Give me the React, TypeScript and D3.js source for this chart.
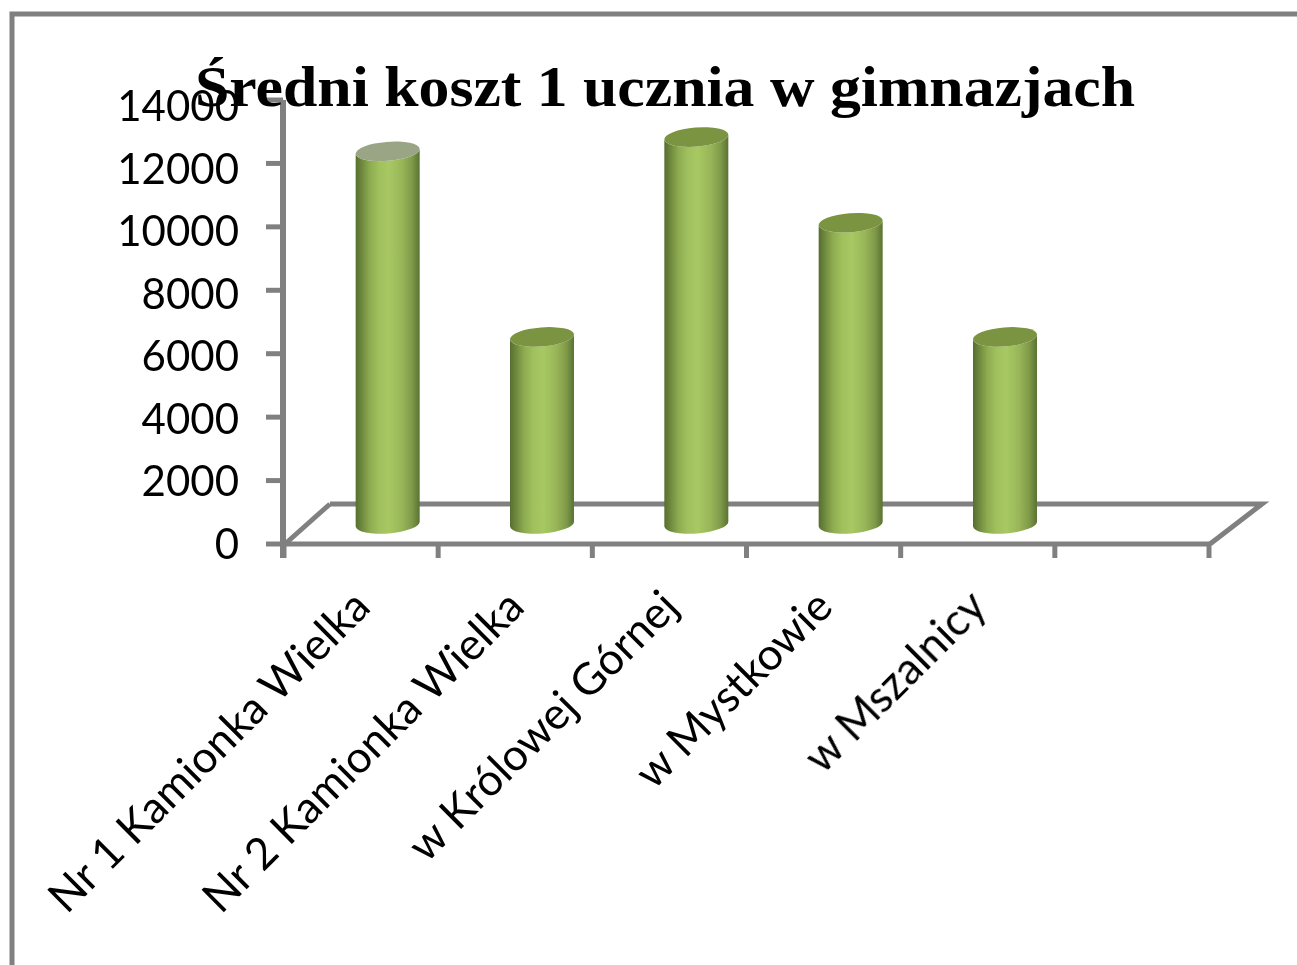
import React from "react";
import * as d3 from "d3";

const title = "Średni koszt 1 ucznia w gimnazjach";
const categories = ["Nr 1 Kamionka Wielka", "Nr 2 Kamionka Wielka", "w Królowej Górnej", "w Mystkowie", "w Mszalnicy", ""];
const values = [11750, 5900, 12200, 9500, 5900];
const yTicks = [0, 2000, 4000, 6000, 8000, 10000, 12000, 14000];

const W = 1297, H = 965;
const depthX = 47, depthY = 40;
const y = d3.scaleLinear().domain([0, 14000]).range([544, 100]);
const yLabel = d3.scaleLinear().domain([0, 14000]).range([544, 106]);
const x = d3.scaleBand<string>().domain(categories.map((c, i) => c + i)).range([284, 1210]);
const grey = "#808080";
const rx = 32, ry = 9.5, tilt = 2.6;

export default function App() {
  const baseY = y(0) - depthY / 2;
  return (
    <svg width={W} height={H} style={{ position: "absolute", left: 0, top: 0, background: "#fff" }}>
      <defs>
        <linearGradient id="bar" x1="0" x2="1" y1="0" y2="0">
          <stop offset="0" stopColor="#566e30" />
          <stop offset="0.1" stopColor="#6f8a3e" />
          <stop offset="0.22" stopColor="#8dab50" />
          <stop offset="0.36" stopColor="#9fc05c" />
          <stop offset="0.52" stopColor="#a7c863" />
          <stop offset="0.72" stopColor="#99b658" />
          <stop offset="0.88" stopColor="#7f9a49" />
          <stop offset="1" stopColor="#5a7232" />
        </linearGradient>
        <filter id="soft" x="-5%" y="-5%" width="110%" height="110%">
          <feGaussianBlur stdDeviation="0.7" />
        </filter>
      </defs>
      <path d={`M12,965V14H1297`} fill="none" stroke={grey} strokeWidth={5} />
      <g stroke={grey} strokeWidth={5} fill="none" filter="url(#soft)">
        <path d={`M${285 + depthX - 2},${y(0) - depthY}H${1210 + depthX + 5}L1210,${y(0)}`} />
        <path d={`M285,${y(0)}L${285 + depthX - 2},${y(0) - depthY}`} />
        <path d={`M283,${y(14000)}V${y(0) + 14}`} strokeWidth={6} />
        <path d={`M285,${y(0)}H1210`} />
        {yTicks.map(t => <path key={t} d={`M266,${y(t)}H283`} />)}
        {d3.range(0, 7).map(i => {
          const px = 284 + (i * 925) / 6;
          return <path key={i} d={`M${px},${y(0)}V${y(0) + 14}`} />;
        })}
      </g>
      {values.map((v, i) => {
        const cx = (x(categories[i] + i) as number) + x.bandwidth() / 2 + depthX / 2 + 3;
        const top = y(v) - depthY / 2;
        const l = cx - rx, r = cx + rx;
        const d = `M${l},${top + tilt}L${l},${baseY + tilt}A${rx},${ry},-4.5,0,0,${r},${baseY - tilt}L${r},${top - tilt}A${rx},${ry},-4.5,0,1,${l},${top + tilt}Z`;
        const cap = `M${l},${top + tilt}A${rx},${ry},-4.5,0,1,${r},${top - tilt}A${rx},${ry},-4.5,0,1,${l},${top + tilt}Z`;
        return (
          <g key={i} filter="url(#soft)">
            <path d={d} fill="url(#bar)" />
            <path d={cap} fill={i === 0 ? "#9aa585" : "#7a9443"} />
          </g>
        );
      })}
      <g filter="url(#soft)">
        {yTicks.map(t => (
          <text key={t} x={239} y={yLabel(t) + 15} textAnchor="end" fontFamily="Lato" fontSize={42} fill="#000">{t}</text>
        ))}
        {categories.slice(0, 5).map((c, i) => {
          const px = 285 + (i + 0.5) * (925 / 6);
          return (
            <text key={c} transform={`translate(${px - 14},${585}) rotate(-45)`} textAnchor="end" dominantBaseline="hanging" fontFamily="Lato" fontSize={44} fill="#000">{c}</text>
          );
        })}
        <text x={195} y={106} textLength={940} lengthAdjust="spacingAndGlyphs" fontFamily="Liberation Serif" fontWeight="bold" fontSize={58} fill="#000">{title}</text>
      </g>
    </svg>
  );
}
